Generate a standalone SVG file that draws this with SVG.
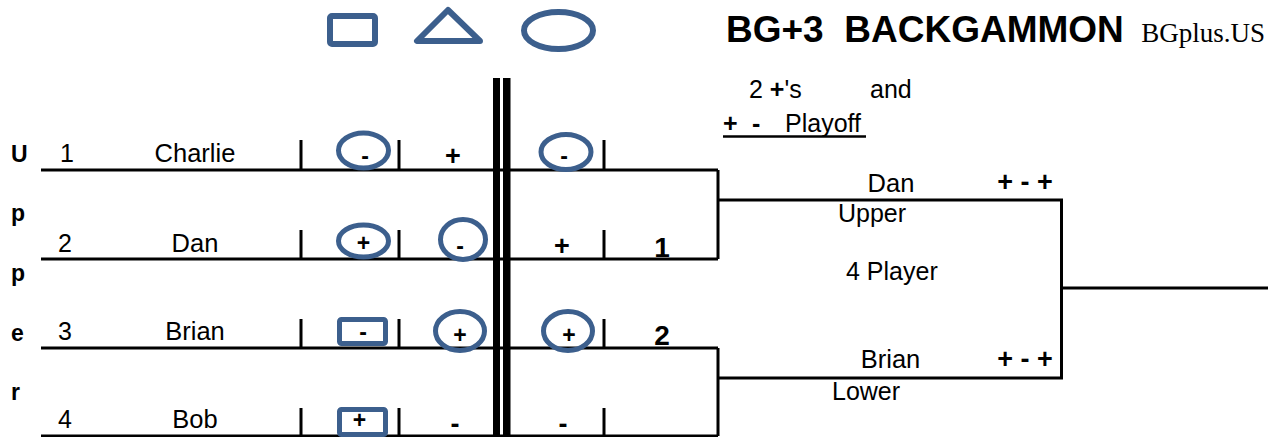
<svg xmlns="http://www.w3.org/2000/svg" width="1279" height="437" viewBox="0 0 1279 437">
<style>
text{font-family:"Liberation Sans",Arial,sans-serif;fill:#000}
.t{font-size:25px}
.b{font-weight:bold}
.sym{font-size:23px;font-weight:bold;text-anchor:middle}
.big{font-size:27px;font-weight:bold;text-anchor:middle}
.ln{stroke:#000;stroke-width:3;fill:none}
.tk{stroke:#000;stroke-width:3}
.sh{stroke:#3C5F8D;fill:none}
.nm{font-size:25.5px;text-anchor:middle}
</style>
<rect width="1279" height="437" fill="#fff"/>
<g id="legend">
<rect class="sh" x="330" y="16" width="45" height="28" rx="2" stroke-width="6"/>
<polygon class="sh" points="448,10 417,41 480,41" stroke-width="6" stroke-linejoin="round"/>
<ellipse class="sh" cx="558.5" cy="30.5" rx="34.5" ry="18.5" stroke-width="6"/>
</g>
<g id="title">
<text x="726" y="42" class="b" font-size="37" xml:space="preserve">BG+3  BACKGAMMON</text>
<text x="1265" y="42" font-size="27" text-anchor="end" style="font-family:'Liberation Serif','Times New Roman',serif">BGplus.US</text>
</g>
<g id="note">
<text x="749" y="98" class="t">2 <tspan class="b">+</tspan>'s</text>
<text x="870" y="98" class="t">and</text>
<text x="723" y="131.7" class="t b">+</text>
<text x="752" y="131.7" class="t b">-</text>
<text x="785" y="131.7" class="t">Playoff</text>
<line x1="723" y1="136.5" x2="866" y2="136.5" stroke="#000" stroke-width="2.5"/>
</g>
<g id="side-label" class="b" font-size="23">
<text x="11" y="161.7">U</text>
<text x="11" y="221">p</text>
<text x="11" y="281">p</text>
<text x="11" y="341">e</text>
<text x="11" y="400">r</text>
</g>
<g id="connectors">
<path class="ln" d="M41 170H718M41 259H718M41 348H718M41 436H718"/>
<path class="ln" d="M718 170V259M718 348V436M718 200H1061.5V378H718M1060 288H1268"/>
<rect x="493" y="78" width="7" height="359" fill="#000"/>
<rect x="503" y="78" width="7.5" height="359" fill="#000"/>
<path class="tk" d="M301 140V171M399 140V171M604 140V171M301 230V260M399 230V260M604 230V260M301 319V349M399 319V349M604 319V349M301 408V437M399 408V437M604 408V437"/>
</g>
<g id="row1">
<text x="60" y="162" class="t">1</text>
<text x="195" y="162" class="nm">Charlie</text>
<ellipse class="sh" cx="363.5" cy="150.5" rx="25" ry="17.5" stroke-width="5"/>
<text x="365" y="164" class="sym">-</text>
<text x="453" y="165" class="big">+</text>
<ellipse class="sh" cx="566" cy="152" rx="25" ry="17.5" stroke-width="5"/>
<text x="564" y="164" class="sym">-</text>
</g>
<g id="row2">
<text x="58" y="251.7" class="t">2</text>
<text x="195" y="251.7" class="nm">Dan</text>
<ellipse class="sh" cx="363.5" cy="241" rx="25" ry="16" stroke-width="5"/>
<text x="363.5" y="251" class="sym">+</text>
<ellipse class="sh" cx="463" cy="239.5" rx="22.5" ry="20" stroke-width="5"/>
<text x="460" y="254" class="sym">-</text>
<text x="562" y="255" class="big">+</text>
<text x="662" y="257" class="b" font-size="28" text-anchor="middle">1</text>
</g>
<g id="row3">
<text x="58" y="340" class="t">3</text>
<text x="195" y="340" class="nm">Brian</text>
<rect class="sh" x="339.5" y="319.5" width="46" height="24" rx="2" stroke-width="5"/>
<text x="363" y="340" class="sym">-</text>
<ellipse class="sh" cx="460" cy="331" rx="24.5" ry="19.5" stroke-width="5"/>
<text x="460" y="343" class="sym">+</text>
<ellipse class="sh" cx="568" cy="331" rx="24.5" ry="19.5" stroke-width="5"/>
<text x="569" y="343" class="sym">+</text>
<text x="662" y="345" class="b" font-size="28" text-anchor="middle">2</text>
</g>
<g id="row4">
<text x="58" y="428" class="t">4</text>
<text x="195" y="428" class="nm">Bob</text>
<rect class="sh" x="339.5" y="409.5" width="46" height="25" rx="2" stroke-width="5"/>
<text x="359.5" y="428" class="sym">+</text>
<text x="455" y="433" class="big">-</text>
<text x="563" y="433" class="big">-</text>
</g>
<g id="playoff">
<text x="891" y="191.5" class="nm">Dan</text>
<text x="1025" y="191" class="big" font-size="28" xml:space="preserve">+ - +</text>
<text x="838" y="221.7" class="t">Upper</text>
<text x="846" y="280" class="t">4 Player</text>
<text x="890.5" y="368.3" class="nm">Brian</text>
<text x="1025" y="368" class="big" font-size="28" xml:space="preserve">+ - +</text>
<text x="832" y="400" class="t">Lower</text>
</g>
</svg>
